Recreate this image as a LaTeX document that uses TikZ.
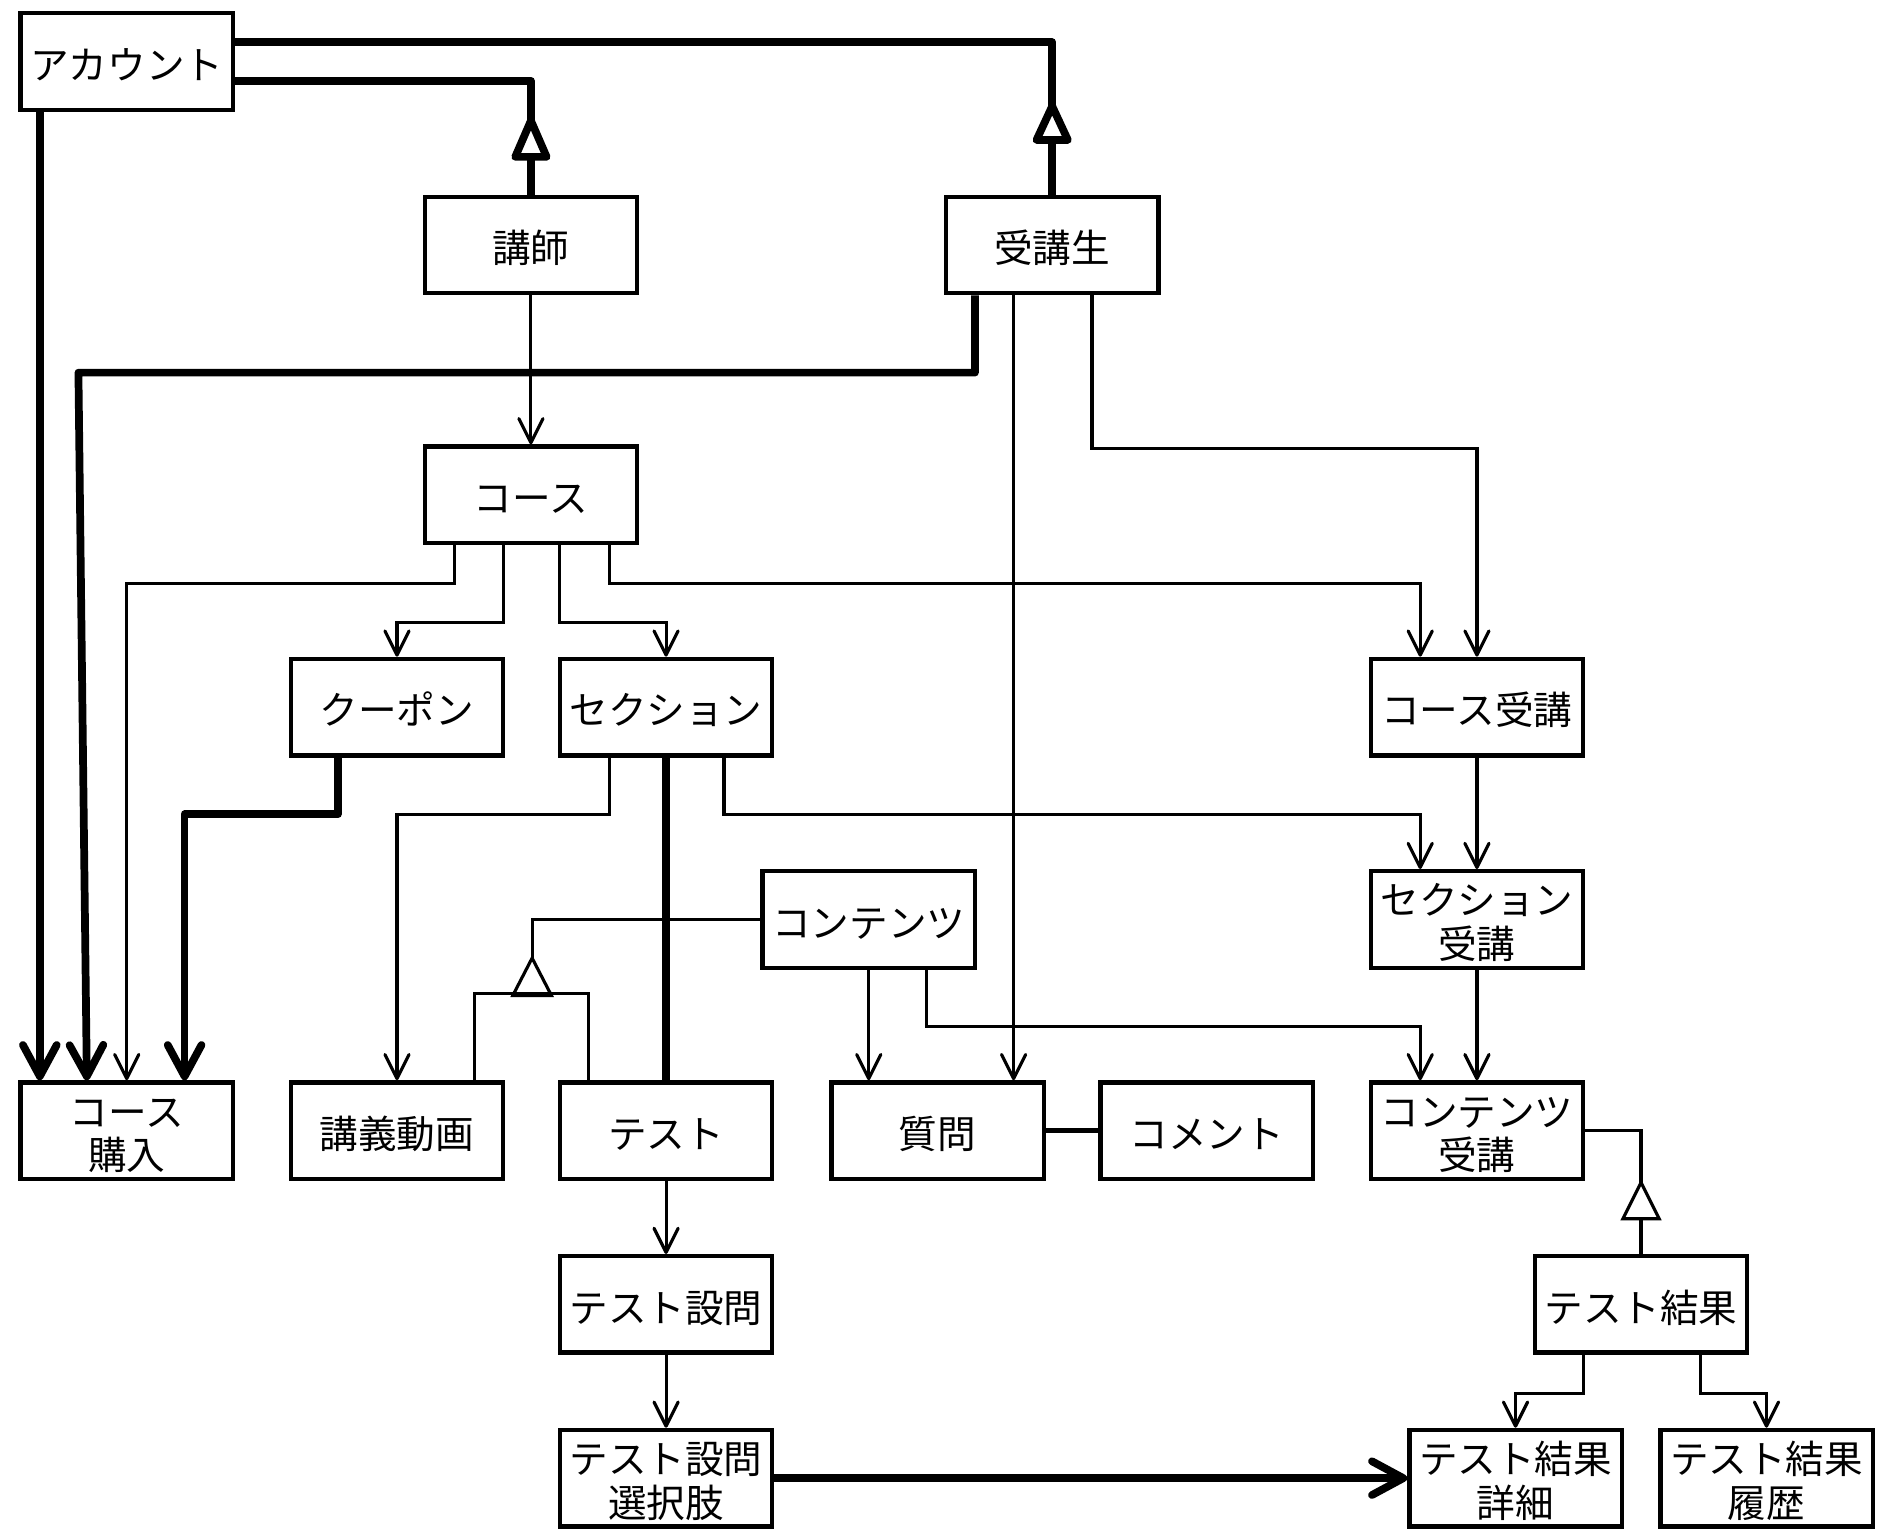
\documentclass[tikz,border=0pt]{standalone}
\usepackage{fontspec}
\setmainfont{Noto Sans CJK JP}
\usetikzlibrary{arrows.meta,calc}
\newcommand\oneline[1]{\makebox[0pt]{\raisebox{-7.4pt}[0pt][0pt]{#1}}}
\newcommand\twoline[2]{\makebox[0pt]{\raisebox{1.9pt}[0pt][0pt]{#1}}\makebox[0pt]{\raisebox{-16.1pt}[0pt][0pt]{#2}}}
\begin{document}
\begin{tikzpicture}[x=0.5pt,y=-0.5pt,
  box/.style={draw,line width=1.8pt,minimum width=88pt,minimum height=40pt,inner sep=0pt,font=\fontsize{16pt}{19pt}\selectfont},
  conn/.style={line width=1.3pt,-{Straight Barb[length=10pt,width=10pt,round]}},
  bigconn/.style={line width=3.2pt,line join=round,-{Straight Barb[length=13pt,width=14pt,round]}},
  bigline/.style={line width=3.2pt,line join=round},
  genline/.style={line width=1.3pt},
]
\useasboundingbox (0,0) rectangle (1568,1275);
\fill[white] (0,0) rectangle (1568,1275);

\node[box] (acc) at (105,51) {\oneline{アカウント}};
\node[box] (ins) at (440,203) {\oneline{講師}};
\node[box] (stu) at (872,203) {\oneline{受講生}};
\node[box] (crs) at (440,410) {\oneline{コース}};
\node[box] (cpn) at (329,586) {\oneline{クーポン}};
\node[box] (sec) at (552,586) {\oneline{セクション}};
\node[box] (cen) at (1224,586) {\oneline{コース受講}};
\node[box] (cnt) at (720,762) {\oneline{コンテンツ}};
\node[box] (sen) at (1224,762) {\twoline{セクション}{受講}};
\node[box] (buy) at (105,937) {\twoline{コース}{購入}};
\node[box] (vid) at (329,937) {\oneline{講義動画}};
\node[box] (tst) at (552,937) {\oneline{テスト}};
\node[box] (qst) at (777,937) {\oneline{質問}};
\node[box] (cmt) at (1000,937) {\oneline{コメント}};
\node[box] (ten) at (1224,937) {\twoline{コンテンツ}{受講}};
\node[box] (tq) at (552,1081) {\oneline{テスト設問}};
\node[box] (tr) at (1360,1081) {\oneline{テスト結果}};
\node[box] (tqc) at (552,1225) {\twoline{テスト設問}{選択肢}};
\node[box] (trd) at (1256,1225) {\twoline{テスト結果}{詳細}};
\node[box] (trh) at (1464,1225) {\twoline{テスト結果}{履歴}};

\coordinate (g1) at (440,100);
\coordinate (g2) at (872,88);
\coordinate (g3) at (441,794);
\coordinate (g4) at (1360,980);

% generalizations to account
\draw[bigline] ($(acc.east)+(0,16)$) -| (g1);
\draw[bigline] (ins.north) -- ($(g1)+(0,30)$);
\draw[bigline,fill=white] (g1) -- ++(-13,30) -- ++(26,0) -- cycle;
\draw[bigline] ($(acc.east)+(0,-16)$) -| (g2);
\draw[bigline] (stu.north) -- ($(g2)+(0,28)$);
\draw[bigline,fill=white] (g2) -- ++(-13,28) -- ++(26,0) -- cycle;

% thick associations
\draw[bigconn] ($(acc.south)+(-72,0)$) -- ($(buy.north)+(-72,0)$);
\draw[bigconn] ($(stu.south)+(-64,0)$) -- ++(0,64) -- ++(-743,0) -- ($(buy.north)+(-33,0)$);
\draw[bigconn] ($(cpn.south)+(-49,0)$) -- ++(0,47) -| ($(buy.north)+(48,0)$);
\draw[bigline] (sec.south) -- (tst.north);
\draw[bigconn] (tqc.east) -- (trd.west);

% thin associations
\draw[conn] (ins.south) -- (crs.north);
\draw[conn] ($(stu.south)+(-32,0)$) -- ($(qst.north)+(63,0)$);
\draw[conn] ($(stu.south)+(33,0)$) -- ++(0,127) -| (cen.north);
\draw[conn] ($(crs.south)+(-63,0)$) -- ++(0,32) -| (buy.north);
\draw[conn] ($(crs.south)+(-23,0)$) -- ++(0,64) -| (cpn.north);
\draw[conn] ($(crs.south)+(24,0)$) -- ++(0,64) -| (sec.north);
\draw[conn] ($(crs.south)+(65,0)$) -- ++(0,32) -| ($(cen.north)+(-47,0)$);
\draw[conn] ($(sec.south)+(-47,0)$) -- ++(0,47) -| (vid.north);
\draw[conn] ($(sec.south)+(48,0)$) -- ++(0,47) -| ($(sen.north)+(-47,0)$);
\draw[conn] (cen.south) -- (sen.north);
\draw[conn] (cnt.south) -- ($(qst.north)+(-57,0)$);
\draw[conn] ($(cnt.south)+(48,0)$) -- ++(0,47) -| ($(ten.north)+(-47,0)$);
\draw[conn] (sen.south) -- (ten.north);
\draw[conn] (tst.south) -- (tq.north);
\draw[conn] (tq.south) -- (tqc.north);
\draw[conn] ($(tr.south)+(-48,0)$) -- ++(0,32) -| (trd.north);
\draw[conn] ($(tr.south)+(49,0)$) -- ++(0,32) -| (trh.north);
\draw[line width=1.8pt] (qst.east) -- (cmt.west);

% content generalization
\draw[genline] (cnt.west) -| (g3);
\draw[genline,fill=white] (g3) -- ++(-16,31) -- ++(32,0) -- cycle;
\draw[genline] ($(vid.north)+(64,0)$) -- ++(0,-72) -- ($(tst.north)+(-64,-72)$) -- ($(tst.north)+(-64,0)$);

% test result generalization
\draw[genline] (ten.east) -| (g4);
\draw[genline,fill=white] (g4) -- ++(-15,30) -- ++(30,0) -- cycle;
\draw[genline] (tr.north) -- ($(g4)+(0,30)$);
\end{tikzpicture}
\end{document}
